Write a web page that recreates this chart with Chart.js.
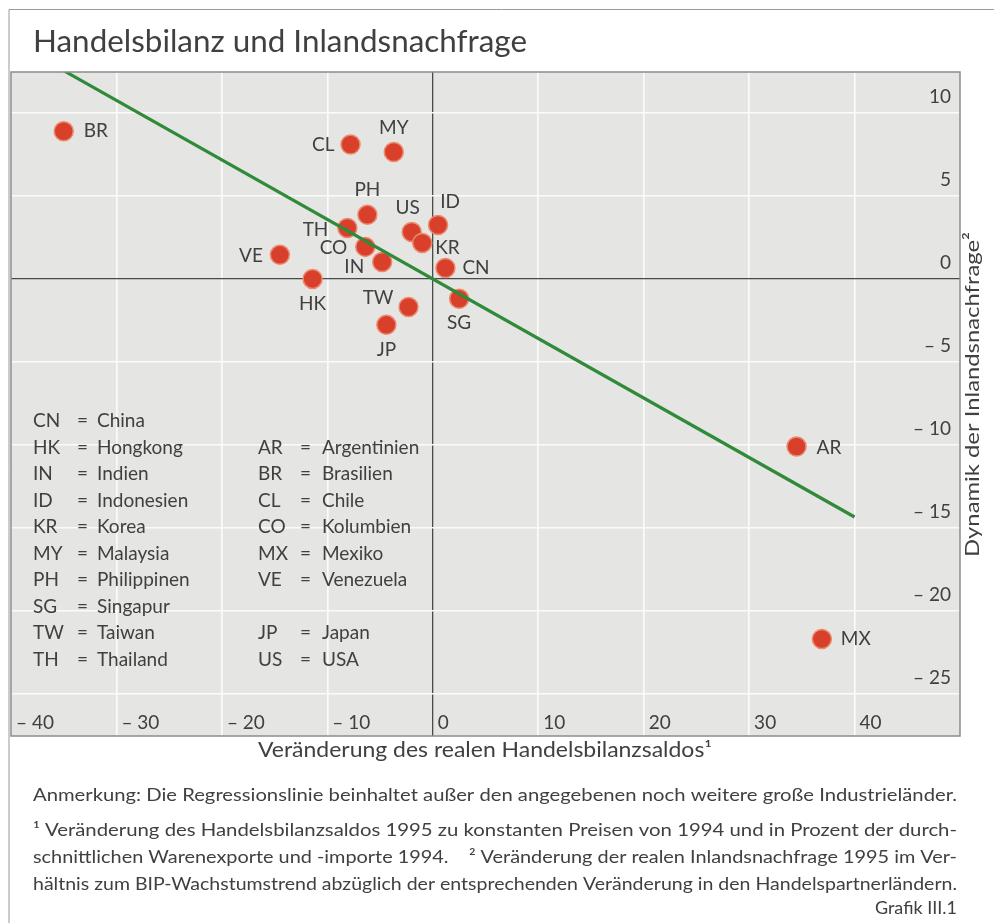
<!DOCTYPE html>
<html>
<head>
<meta charset="utf-8">
<script src="https://cdn.jsdelivr.net/npm/chart.js@4"></script>
<style>
  html, body { margin: 0; padding: 0; background: #fff; }
  #wrap { position: relative; width: 994px; height: 923px; }
</style>
</head>
<body>
<div id="wrap"><canvas id="chart" width="994" height="923"></canvas></div>
<script>
// data
var codes = ['BR', 'CL', 'MY', 'PH', 'US', 'ID', 'TH', 'KR', 'CO', 'IN', 'VE', 'CN', 'HK', 'TW', 'SG', 'JP', 'AR', 'MX'];
var xVals = [-35.0, -7.8, -3.7, -6.2, -2.0, 0.5, -8.1, -1.0, -6.4, -4.8, -14.5, 1.2, -11.4, -2.3, 2.5, -4.4, 34.5, 36.9];
var yVals = [8.9, 8.1, 7.65, 3.86, 2.83, 3.25, 3.07, 2.17, 1.93, 1.02, 1.45, 0.66, 0.0, -1.69, -1.2, -2.77, -10.1, -21.7];
var regX = [-35, 40];
var regY = [12.55, -14.35];
var xTicks = [-40, -30, -20, -10, 0, 10, 20, 30, 40];
var yTicks = [10, 5, 0, -5, -10, -15, -20, -25];

var leftCodes = ['CN', 'HK', 'IN', 'ID', 'KR', 'MY', 'PH', 'SG', 'TW', 'TH'];
var leftNames = ['China', 'Hongkong', 'Indien', 'Indonesien', 'Korea', 'Malaysia', 'Philippinen', 'Singapur', 'Taiwan', 'Thailand'];
var rightCodes = ['', 'AR', 'BR', 'CL', 'CO', 'MX', 'VE', '', 'JP', 'US'];
var rightNames = ['', 'Argentinien', 'Brasilien', 'Chile', 'Kolumbien', 'Mexiko', 'Venezuela', '', 'Japan', 'USA'];

var title = 'Handelsbilanz und Inlandsnachfrage';
var xTitle = 'Veränderung des realen Handelsbilanzsaldos\u00b9';
var yTitle = 'Dynamik der Inlandsnachfrage\u00b2';
var notes = [
    'Anmerkung: Die Regressionslinie beinhaltet außer den angegebenen noch weitere große Industrieländer.',
    '\u00b9 Veränderung des Handelsbilanzsaldos 1995 zu konstanten Preisen von 1994 und in Prozent der durch-',
    'schnittlichen Warenexporte und -importe 1994.    \u00b2 Veränderung der realen Inlandsnachfrage 1995 im Ver-',
    'hältnis zum BIP-Wachstumstrend abzüglich der entsprechenden Veränderung in den Handelspartnerländern.'
];
var source = 'Grafik III.1';

// label placement per point: dx, dy, align
var labelPos = {
    BR: [20, 0, 'left'], CL: [-16, 0, 'right'], MY: [0, -24, 'center'], PH: [0, -25, 'center'],
    US: [-4, -24, 'center'], ID: [12, -23, 'center'], TH: [-19, 2, 'right'], KR: [13, 5, 'left'],
    CO: [-18, 1, 'right'], IN: [-18, 5, 'right'], VE: [-17, 1, 'right'], CN: [17, 0, 'left'],
    HK: [0, 25, 'center'], TW: [-15, -9, 'right'], SG: [0, 24, 'center'], JP: [0, 25, 'center'],
    AR: [20, 1, 'left'], MX: [19, 0, 'left']
};

var TEXT = '#404040';
var FONT = 'Lato, "Open Sans", sans-serif';

function dash(v) { return v < 0 ? '\u2013 ' + Math.abs(v) : String(v); }

function fitLine(ctx, text, x, y, w) {
    var tw = ctx.measureText(text).width;
    ctx.save();
    ctx.translate(x, y);
    ctx.scale(w / tw, 1);
    ctx.fillText(text, 0, 0);
    ctx.restore();
}

var decor = {
    id: 'decor',
    beforeDraw: function (chart) {
        var ctx = chart.ctx, a = chart.chartArea;
        ctx.save();
        ctx.fillStyle = '#fff';
        ctx.fillRect(0, 0, chart.width, chart.height);
        ctx.fillStyle = '#e5e5e3';
        ctx.fillRect(a.left, a.top, a.right - a.left, a.bottom - a.top);
        ctx.restore();
    },
    afterDraw: function (chart) {
        var ctx = chart.ctx, a = chart.chartArea;
        var xs = chart.scales.x, ys = chart.scales.y;
        ctx.save();

        // frame
        ctx.strokeStyle = '#8c8c8c';
        ctx.lineWidth = 1.5;
        ctx.strokeRect(a.left, a.top, a.right - a.left, a.bottom - a.top);
        ctx.lineWidth = 1;
        ctx.strokeStyle = '#9a9a9a';
        ctx.beginPath();
        ctx.moveTo(9, 923); ctx.lineTo(9, 9.5); ctx.lineTo(994, 9.5);
        ctx.stroke();

        ctx.fillStyle = TEXT;
        ctx.textBaseline = 'middle';

        // title
        ctx.font = '31px ' + FONT;
        ctx.textAlign = 'left';
        fitLine(ctx, title, 33, 42, 494);

        // tick labels inside the plot
        ctx.font = '19px ' + FONT;
        xTicks.forEach(function (v) {
            ctx.textAlign = 'left';
            ctx.fillText(dash(v), xs.getPixelForValue(v) + 5, 723);
        });
        yTicks.forEach(function (v) {
            ctx.textAlign = 'right';
            ctx.fillText(dash(v), 951, ys.getPixelForValue(v) - 16);
        });

        // point labels
        var meta = chart.getDatasetMeta(1);
        ctx.font = '19px ' + FONT;
        codes.forEach(function (c, i) {
            var el = meta.data[i], p = labelPos[c];
            ctx.textAlign = p[2];
            ctx.fillText(c, el.x + p[0], el.y + p[1]);
        });

        // country key
        ctx.font = '19px ' + FONT;
        ctx.textAlign = 'left';
        for (var i = 0; i < leftCodes.length; i++) {
            var y = 421 + i * 26.5;
            ctx.fillText(leftCodes[i], 33, y);
            ctx.fillText('=', 77, y);
            ctx.fillText(leftNames[i], 97, y);
            if (rightCodes[i]) {
                ctx.fillText(rightCodes[i], 258, y);
                ctx.fillText('=', 300, y);
                ctx.fillText(rightNames[i], 322, y);
            }
        }

        // axis titles
        ctx.font = '21px ' + FONT;
        ctx.textAlign = 'left';
        fitLine(ctx, xTitle, 258, 750, 454);
        ctx.save();
        ctx.translate(973, 557);
        ctx.rotate(-Math.PI / 2);
        ctx.font = '20px ' + FONT;
        fitLine(ctx, yTitle, 0, 0, 325);
        ctx.restore();

        // notes
        ctx.font = '17.5px ' + FONT;
        ctx.textAlign = 'left';
        var ny = [795, 830, 857, 884];
        notes.forEach(function (t, i) { fitLine(ctx, t, 33, ny[i], 924); });
        ctx.textAlign = 'right';
        ctx.font = '18px ' + FONT;
        ctx.fillText(source, 957, 908);

        ctx.restore();
    }
};

function build() {
    var points = codes.map(function (c, i) { return { x: xVals[i], y: yVals[i] }; });
    var reg = regX.map(function (x, i) { return { x: x, y: regY[i] }; });

    new Chart(document.getElementById('chart'), {
        type: 'scatter',
        data: {
            datasets: [
                {
                    type: 'line', data: reg, order: 0,
                    borderColor: '#2f8a3a', borderWidth: 3.2, pointRadius: 0, fill: false, tension: 0
                },
                {
                    data: points, order: 1,
                    backgroundColor: '#d8402b', borderColor: '#ec8a70', borderWidth: 1.5,
                    pointRadius: 9.5, pointHoverRadius: 9.5
                }
            ]
        },
        options: {
            responsive: false,
            animation: false,
            layout: { padding: { left: 10, top: 72, right: 34, bottom: 187 } },
            plugins: { legend: { display: false }, tooltip: { enabled: false } },
            scales: {
                x: {
                    type: 'linear', min: -40, max: 50,
                    afterBuildTicks: function (s) { s.ticks = xTicks.map(function (v) { return { value: v }; }); },
                    afterFit: function (s) { s.height = 0; },
                    ticks: { display: false },
                    border: { display: false },
                    grid: {
                        drawTicks: false,
                        color: function (c) { return c.tick && c.tick.value === 0 ? '#4a4a4a' : '#fbfbfb'; },
                        lineWidth: function (c) { return c.tick && c.tick.value === 0 ? 1.3 : 1.6; }
                    }
                },
                y: {
                    type: 'linear', min: -27.55, max: 12.47,
                    afterBuildTicks: function (s) { s.ticks = yTicks.map(function (v) { return { value: v }; }); },
                    afterFit: function (s) { s.width = 0; },
                    ticks: { display: false },
                    border: { display: false },
                    grid: {
                        drawTicks: false,
                        color: function (c) { return c.tick && c.tick.value === 0 ? '#4a4a4a' : '#fbfbfb'; },
                        lineWidth: function (c) { return c.tick && c.tick.value === 0 ? 1.3 : 1.6; }
                    }
                }
            }
        },
        plugins: [decor]
    });
}

if (document.fonts && document.fonts.load) {
    Promise.all([document.fonts.load('19px Lato'), document.fonts.load('31px Lato')]).then(build, build);
} else {
    build();
}
</script>
</body>
</html>
